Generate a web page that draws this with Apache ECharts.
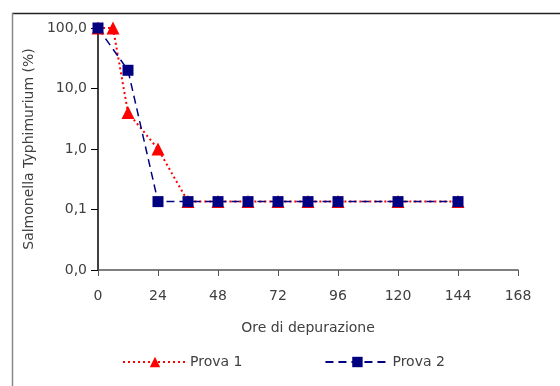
<!DOCTYPE html>
<html><head><meta charset="utf-8">
<script src="https://cdn.jsdelivr.net/npm/echarts@6/dist/echarts.min.js"></script>
<style>html,body{margin:0;padding:0;background:#fff}#c{width:560px;height:386px}</style>
</head><body><div id="c"></div>
<script>
const hours1 = [0, 6, 12, 24, 36, 48, 60, 72, 84, 96, 120, 144];
const prova1 = [100, 100, 4, 1, 0.135, 0.135, 0.135, 0.135, 0.135, 0.135, 0.135, 0.135];
const hours2 = [0, 12, 24, 36, 48, 60, 72, 84, 96, 120, 144];
const prova2 = [100, 20, 0.135, 0.135, 0.135, 0.135, 0.135, 0.135, 0.135, 0.135, 0.135];
const xTicks = [0, 24, 48, 72, 96, 120, 144, 168];
const yTicks = [0.01, 0.1, 1, 10, 100];

const FONT = 'DejaVu Sans';
const TXT = '#404040';
const chart = echarts.init(document.getElementById('c'), null, {renderer: 'canvas'});
chart.setOption({
  animation: false,
  backgroundColor: '#fff',
  graphic: [
    {type: 'line', shape: {x1: 12, y1: 13.5, x2: 560, y2: 13.5}, style: {stroke: '#222', lineWidth: 1.5}, silent: true},
    {type: 'line', shape: {x1: 12.5, y1: 13, x2: 12.5, y2: 386}, style: {stroke: '#888', lineWidth: 1.5}, silent: true}
  ],
  grid: {left: 98, right: 42, top: 28, bottom: 116, containLabel: false},
  legend: {
    left: 122, top: 355, padding: 0,
    itemWidth: 64, itemHeight: 13, itemGap: 82,
    textStyle: {fontFamily: FONT, fontSize: 14, color: TXT, padding: [0, 0, 0, -2]},
    data: ['Prova 1', 'Prova 2']
  },
  xAxis: {
    type: 'value', min: 0, max: 168, interval: 24,
    name: 'Ore di depurazione', nameLocation: 'middle', nameGap: 51,
    nameTextStyle: {fontFamily: FONT, fontSize: 14, color: TXT},
    axisLine: {lineStyle: {color: '#555', width: 1.5}},
    axisTick: {show: true, length: 6, inside: false, lineStyle: {color: '#555'}},
    axisLabel: {fontFamily: FONT, fontSize: 14, color: TXT, margin: 19,
      formatter: v => xTicks.includes(v) ? String(v) : ''},
    splitLine: {show: false}
  },
  yAxis: {
    type: 'log', logBase: 10, min: 0.01, max: 100,
    name: 'Salmonella Typhimurium (%)', nameLocation: 'middle', nameGap: 53, nameRotate: 90,
    nameTextStyle: {fontFamily: FONT, fontSize: 14, color: TXT},
    axisLine: {show: true, lineStyle: {color: '#000', width: 1.5}},
    axisTick: {show: true, length: 7, lineStyle: {color: '#000'}},
    axisLabel: {fontFamily: FONT, fontSize: 14, color: TXT, margin: 11,
      formatter: v => yTicks.some(t => Math.abs(t - v) / t < 1e-6) ? v.toFixed(1).replace('.', ',') : ''},
    splitLine: {show: false}
  },
  series: [
    {
      name: 'Prova 1', type: 'line',
      data: hours1.map((h, i) => [h, prova1[i]]),
      symbol: 'triangle', symbolSize: 13,
      itemStyle: {color: '#ff0000'},
      lineStyle: {color: '#ff0000', width: 2, type: [2, 3]}
    },
    {
      name: 'Prova 2', type: 'line',
      data: hours2.map((h, i) => [h, prova2[i]]),
      symbol: 'rect', symbolSize: 11,
      itemStyle: {color: '#000080'},
      lineStyle: {color: '#000080', width: 1.5, type: [8, 5]}
    }
  ]
});
</script></body></html>
